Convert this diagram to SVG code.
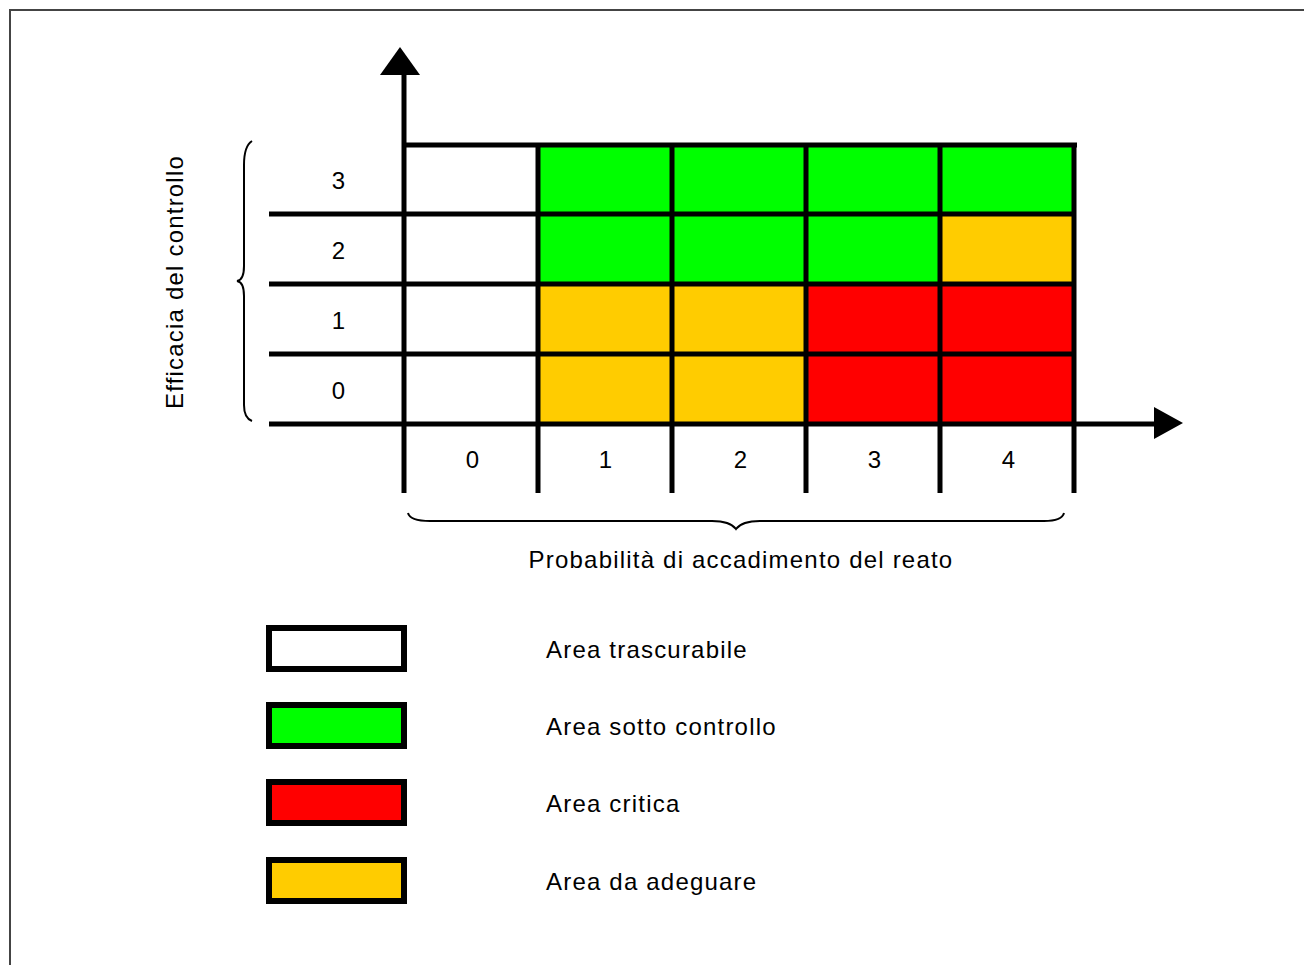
<svg xmlns="http://www.w3.org/2000/svg" width="1304" height="965" viewBox="0 0 1304 965">
<style>
.ln{stroke:#000;stroke-width:5;fill:none}
.br{stroke:#000;stroke-width:2;fill:none}
.t{font-family:"Liberation Sans",Arial,sans-serif;font-size:24px;letter-spacing:1.2px;fill:#000}
.g{fill:#00FF00}.o{fill:#FFCC00}.r{fill:#FF0000}.w{fill:#FFFFFF}
.lg{stroke:#000;stroke-width:6}
</style>
<rect x="0" y="0" width="1304" height="965" fill="#fff"/>
<rect x="10" y="10" width="1320" height="980" fill="none" stroke="#444" stroke-width="2"/>
<g id="cells">
<rect class="g" x="538" y="145" width="134" height="70"/>
<rect class="g" x="672" y="145" width="134" height="70"/>
<rect class="g" x="806" y="145" width="134" height="70"/>
<rect class="g" x="940" y="145" width="134" height="70"/>
<rect class="g" x="538" y="214" width="134" height="70"/>
<rect class="g" x="672" y="214" width="134" height="70"/>
<rect class="g" x="806" y="214" width="134" height="70"/>
<rect class="o" x="940" y="214" width="134" height="70"/>
<rect class="o" x="538" y="284" width="134" height="70"/>
<rect class="o" x="672" y="284" width="134" height="70"/>
<rect class="r" x="806" y="284" width="134" height="70"/>
<rect class="r" x="940" y="284" width="134" height="70"/>
<rect class="o" x="538" y="354" width="134" height="70"/>
<rect class="o" x="672" y="354" width="134" height="70"/>
<rect class="r" x="806" y="354" width="134" height="70"/>
<rect class="r" x="940" y="354" width="134" height="70"/>
</g>
<g id="connectors">
<line class="ln" x1="404" y1="145" x2="1077" y2="145"/>
<line class="ln" x1="269" y1="214" x2="1076" y2="214"/>
<line class="ln" x1="269" y1="284" x2="1076" y2="284"/>
<line class="ln" x1="269" y1="354" x2="1076" y2="354"/>
<line class="ln" x1="269" y1="424" x2="1156" y2="424"/>
<line class="ln" x1="404" y1="72" x2="404" y2="493"/>
<line class="ln" x1="538" y1="147" x2="538" y2="493"/>
<line class="ln" x1="672" y1="147" x2="672" y2="493"/>
<line class="ln" x1="806" y1="147" x2="806" y2="493"/>
<line class="ln" x1="940" y1="147" x2="940" y2="493"/>
<line class="ln" x1="1074" y1="147" x2="1074" y2="493"/>
<polygon points="400,47 380,75 420,75" fill="#000"/>
<polygon points="1183,423 1154,407 1154,439" fill="#000"/>
<path class="br" d="M252,141 Q244,146 244,165 L244,266 Q244,280 237,281 Q244,282 244,296 L244,405 Q244,418 252,421"/>
<path class="br" d="M408,513 Q410,521 430,521 L712,521 Q730,521 736,529 Q742,521 760,521 L1044,521 Q1062,521 1064,513"/>
</g>
<g id="labels">
<text class="t" x="339" y="189" text-anchor="middle">3</text>
<text class="t" x="339" y="259" text-anchor="middle">2</text>
<text class="t" x="339" y="329" text-anchor="middle">1</text>
<text class="t" x="339" y="399" text-anchor="middle">0</text>
<text class="t" x="473" y="468" text-anchor="middle">0</text>
<text class="t" x="606" y="468" text-anchor="middle">1</text>
<text class="t" x="741" y="468" text-anchor="middle">2</text>
<text class="t" x="875" y="468" text-anchor="middle">3</text>
<text class="t" x="1009" y="468" text-anchor="middle">4</text>
<text class="t" transform="translate(183,282) rotate(-90)" text-anchor="middle">Efficacia del controllo</text>
<text class="t" x="741" y="568" text-anchor="middle">Probabilità di accadimento del reato</text>
</g>
<g id="legend-trascurabile">
<rect class="lg w" x="269" y="628" width="135" height="41"/>
<text class="t" x="546" y="658">Area trascurabile</text>
</g>
<g id="legend-controllo">
<rect class="lg g" x="269" y="705" width="135" height="41"/>
<text class="t" x="546" y="735">Area sotto controllo</text>
</g>
<g id="legend-critica">
<rect class="lg r" x="269" y="782" width="135" height="41"/>
<text class="t" x="546" y="812">Area critica</text>
</g>
<g id="legend-adeguare">
<rect class="lg o" x="269" y="860" width="135" height="41"/>
<text class="t" x="546" y="890">Area da adeguare</text>
</g>
</svg>
